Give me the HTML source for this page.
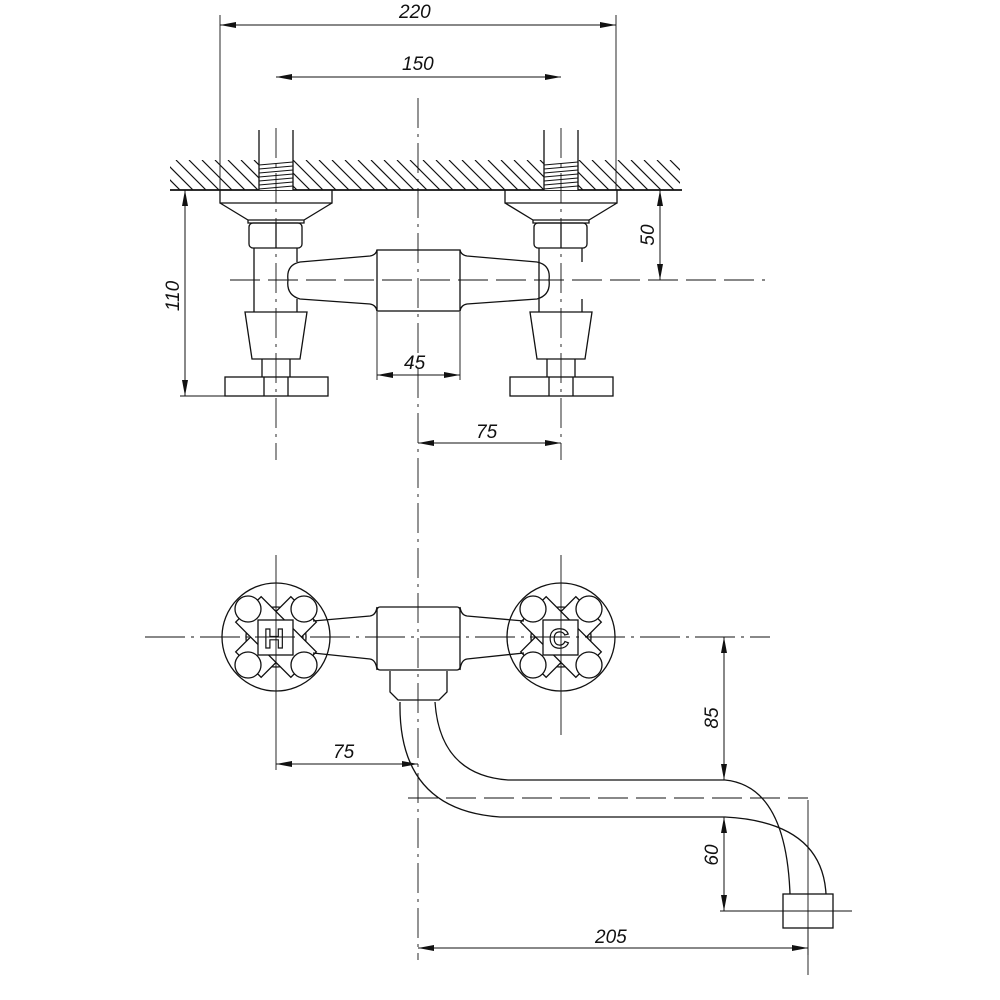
<!DOCTYPE html>
<html><head><meta charset="utf-8"><style>
html,body{margin:0;padding:0;background:#fff}
svg{display:block}
text{font-family:"Liberation Sans",sans-serif;font-style:italic;font-size:19px;fill:#111}
</style></head><body>
<svg width="1000" height="1000" viewBox="0 0 1000 1000" xmlns="http://www.w3.org/2000/svg">
<defs>
<marker id="a" viewBox="0 0 16 6" refX="16" refY="3" markerWidth="16" markerHeight="6" markerUnits="userSpaceOnUse" orient="auto-start-reverse"><path d="M0,0 L16,3 L0,6 Z" fill="#111"/></marker>
<clipPath id="hc"><rect x="170" y="160" width="510" height="30"/></clipPath>
</defs>
<g fill="none" stroke="#111" stroke-width="1.3">
<!-- hatch wall -->
<g clip-path="url(#hc)" stroke-width="1.2">
<path d="M150,160 l30,30 M163,160 l30,30 M176,160 l30,30 M189,160 l30,30 M202,160 l30,30 M215,160 l30,30 M228,160 l30,30 M241,160 l30,30 M254,160 l30,30 M267,160 l30,30 M280,160 l30,30 M293,160 l30,30 M306,160 l30,30 M319,160 l30,30 M332,160 l30,30 M345,160 l30,30 M358,160 l30,30 M371,160 l30,30 M384,160 l30,30 M397,160 l30,30 M410,160 l30,30 M423,160 l30,30 M436,160 l30,30 M449,160 l30,30 M462,160 l30,30 M475,160 l30,30 M488,160 l30,30 M501,160 l30,30 M514,160 l30,30 M527,160 l30,30 M540,160 l30,30 M553,160 l30,30 M566,160 l30,30 M579,160 l30,30 M592,160 l30,30 M605,160 l30,30 M618,160 l30,30 M631,160 l30,30 M644,160 l30,30 M657,160 l30,30 M670,160 l30,30"/>
</g>
<line x1="170" y1="190" x2="682" y2="190" stroke-width="1.8"/>
<!-- threads -->
<rect x="259" y="160" width="34" height="30" fill="#fff" stroke="none"/>
<rect x="544" y="160" width="34" height="30" fill="#fff" stroke="none"/>
<g stroke-width="1">
<path d="M259,165 L293,162 M259,169 L293,166 M259,173 L293,170 M259,177 L293,174 M259,181 L293,178 M259,185 L293,182 M259,189 L293,186"/>
<path d="M544,165 L578,162 M544,169 L578,166 M544,173 L578,170 M544,177 L578,174 M544,181 L578,178 M544,185 L578,182 M544,189 L578,186"/>
</g>
<path d="M259,130 V190 M293,130 V190 M544,130 V190 M578,130 V190"/>
<!-- units -->
<g id="u">
<path d="M220,190 V203 H332 V190 M220,203 L248,220 H304 L332,203 M248,220 V223 H304 V220"/>
<rect x="249" y="223" width="53" height="25" rx="4"/>
<line x1="276" y1="223" x2="276" y2="248"/>
<path d="M254,248 V312 M297,248 V262 M297,299 V312"/>
<path d="M245,312 H307 L300,359 H252 Z"/>
<path d="M262,359 V377 M290,359 V377"/>
<rect x="225" y="377" width="103" height="19"/>
<path d="M264,377 V396 M288,377 V396"/>
</g>
<use href="#u" transform="translate(285,0)"/>
<!-- arm -->
<path d="M300,262 Q286,265 288,280 Q286,295 300,299 L370,304 Q376,305 377,311 M300,262 L370,256 Q376,255 377,250"/>
<path d="M537,262 Q551,265 549,280 Q551,295 537,299 L467,304 Q461,305 460,311 M537,262 L467,256 Q461,255 460,250"/>
<rect x="377" y="250" width="83" height="61"/>
<!-- front view handles -->
<g id="hd">
<circle cx="276" cy="637" r="54"/>
<circle cx="276" cy="637" r="30"/>
<g fill="#fff">
<rect x="258" y="598" width="36" height="78" transform="rotate(45 276 637)"/>
<rect x="258" y="598" width="36" height="78" transform="rotate(-45 276 637)"/>
<circle cx="248" cy="609" r="13"/><circle cx="304" cy="609" r="13"/>
<circle cx="248" cy="665" r="13"/><circle cx="304" cy="665" r="13"/>
<rect x="258" y="620" width="35" height="35"/>
</g>
</g>
<use href="#hd" transform="translate(285,0)"/>
<path d="M313,621 L370,616 Q376,615 377,607 M313,653 L370,659 Q376,660 377,670"/>
<path d="M524,621 L467,616 Q461,615 460,607 M524,653 L467,659 Q461,660 460,670"/>
<rect x="377" y="607" width="83" height="63" rx="3"/>
<path d="M390,671 V692 L398,700 H439 L447,692 V671"/>
<!-- spout -->
<path d="M400,702 Q398,810 500,817 H725 Q822,822 826,894"/>
<path d="M435,702 Q440,775 508,780 H725 Q786,786 790,894"/>
<rect x="783" y="894" width="50" height="34"/>
</g>
<text x="264" y="648" style="font-style:normal;font-size:28px;font-weight:bold;fill:none;stroke:#111;stroke-width:1.2">H</text>
<text x="549" y="648" style="font-style:normal;font-size:28px;font-weight:bold;fill:none;stroke:#111;stroke-width:1.2">C</text>
<!-- center lines -->
<g fill="none" stroke="#111" stroke-width="0.9">
<path d="M418,98 V960" stroke-dasharray="30,6,3,6"/>
<path d="M276,128 V460 M561,128 V460" stroke-dasharray="30,6,3,6"/>
<path d="M230,280 H765" stroke-dasharray="30,8"/>
<path d="M145,637 H770" stroke-dasharray="40,6,3,6"/>
<path d="M276,555 V770 M561,555 V735"/>
<path d="M408,798 H808" stroke-dasharray="30,8"/>
<path d="M808,800 V975 M720,911 H852"/>
<path d="M220,15 V190 M616,15 V190"/>
<path d="M180,190 H220 M180,396 H225 M660,190 H680"/>
<path d="M377,312 V380 M460,312 V380"/>
<path d="M808,930 V955"/>
</g>
<!-- dimension lines -->
<g fill="none" stroke="#111" stroke-width="1">
<line x1="220" y1="25" x2="616" y2="25" marker-start="url(#a)" marker-end="url(#a)"/>
<line x1="276" y1="77" x2="561" y2="77" marker-start="url(#a)" marker-end="url(#a)"/>
<line x1="185" y1="190" x2="185" y2="396" marker-start="url(#a)" marker-end="url(#a)"/>
<line x1="660" y1="190" x2="660" y2="280" marker-start="url(#a)" marker-end="url(#a)"/>
<line x1="377" y1="375" x2="460" y2="375" marker-start="url(#a)" marker-end="url(#a)"/>
<line x1="418" y1="443" x2="561" y2="443" marker-start="url(#a)" marker-end="url(#a)"/>
<line x1="276" y1="764" x2="418" y2="764" marker-start="url(#a)" marker-end="url(#a)"/>
<line x1="724" y1="637" x2="724" y2="780" marker-start="url(#a)" marker-end="url(#a)"/>
<line x1="724" y1="817" x2="724" y2="911" marker-start="url(#a)" marker-end="url(#a)"/>
<line x1="418" y1="948" x2="808" y2="948" marker-start="url(#a)" marker-end="url(#a)"/>
</g>
<text x="399" y="18">220</text>
<text x="402" y="70">150</text>
<text x="404" y="369">45</text>
<text x="476" y="438">75</text>
<text x="333" y="758">75</text>
<text x="595" y="943">205</text>
<text transform="translate(179,296) rotate(-90)" text-anchor="middle">110</text>
<text transform="translate(654,235) rotate(-90)" text-anchor="middle">50</text>
<text transform="translate(718,718) rotate(-90)" text-anchor="middle">85</text>
<text transform="translate(718,855) rotate(-90)" text-anchor="middle">60</text>
</svg>
</body></html>
